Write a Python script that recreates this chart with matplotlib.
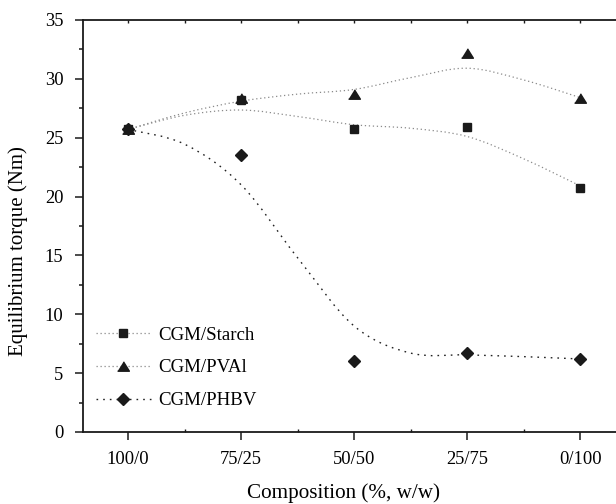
import numpy as np
import matplotlib
matplotlib.use("Agg")
import matplotlib.pyplot as plt
from matplotlib.path import Path
from matplotlib.patches import PathPatch
from matplotlib.lines import Line2D
from matplotlib.ticker import MultipleLocator

plt.rcParams['font.family'] = ['Liberation Serif', 'DejaVu Serif']

# composition categories
categories = ['100/0', '75/25', '50/50', '25/75', '0/100']

# measured equilibrium torque (Nm)
starch = [25.7, 28.2, 25.7, 25.9, 20.7]
pval = [25.7, 28.4, 28.7, 32.2, 28.4]
phbv = [25.7, 23.5, 6.0, 6.7, 6.2]

# smoothed trend lines, read at every half category step
trend_pos = [0, 0.5, 1, 1.5, 2, 2.5, 3, 3.5, 4]
starch_trend = [25.7, 26.9, 27.35, 26.8, 26.1, 25.8, 25.1, 23.2, 20.9]
pval_trend = [25.7, 27.1, 28.1, 28.7, 29.1, 30.1, 30.9, 29.9, 28.4]
phbv_trend = [25.7, 24.45, 21.0, 14.8, 9.0, 6.7, 6.55, 6.4, 6.2]


def smooth_path(xs, ys):
    # catmull-rom through the read points, drawn as cubic bezier segments
    p = np.column_stack([xs, ys]).astype(float)
    p_ext = np.vstack([p[0], p, p[-1]])
    verts = [p[0]]
    codes = [Path.MOVETO]
    for i in range(1, len(p_ext) - 2):
        c1 = p_ext[i] + (p_ext[i + 1] - p_ext[i - 1]) / 6
        c2 = p_ext[i + 1] - (p_ext[i + 2] - p_ext[i]) / 6
        verts += [c1, c2, p_ext[i + 1]]
        codes += [Path.CURVE4] * 3
    return Path(verts, codes)


fig = plt.figure(figsize=(6.16, 5.04), dpi=100)
ax = fig.add_axes([0.1343, 0.1429, 0.8812, 0.8175])

x = np.arange(len(categories))
grey_ls = (0, (1.0, 2.2))
black_ls = (0, (1.2, 3.6))

ax.add_patch(PathPatch(smooth_path(trend_pos, starch_trend), fill=False,
                       ec='#8a8a8a', lw=0.9, ls=grey_ls))
ax.add_patch(PathPatch(smooth_path(trend_pos, pval_trend), fill=False,
                       ec='#8a8a8a', lw=0.9, ls=grey_ls))
ax.add_patch(PathPatch(smooth_path(trend_pos, phbv_trend), fill=False,
                       ec='#222222', lw=1.0, ls=black_ls))

tri = [(-1, -0.8), (1, -0.8), (0, 0.8)]
ax.plot(x, starch, ls='none', marker='s', ms=6, color='#1a1a1a')
ax.plot(x, pval, ls='none', marker=tri, ms=8.5, color='#1a1a1a')
ax.plot(x, phbv, ls='none', marker='D', ms=6, color='#1a1a1a')

handles = [
    Line2D([], [], color='#8a8a8a', lw=0.9, ls=grey_ls, marker='s', ms=6,
           mfc='#1a1a1a', mec='#1a1a1a'),
    Line2D([], [], color='#8a8a8a', lw=0.9, ls=grey_ls, marker=tri, ms=8.5,
           mfc='#1a1a1a', mec='#1a1a1a'),
    Line2D([], [], color='#222222', lw=1.0, ls=black_ls, marker='D', ms=6,
           mfc='#1a1a1a', mec='#1a1a1a'),
]
ax.legend(handles, ['CGM/Starch', 'CGM/PVAl', 'CGM/PHBV'], loc='upper left',
          bbox_to_anchor=(0.0245, 0.256), frameon=False, fontsize=13.6,
          numpoints=1, handlelength=2.9, handletextpad=0.42,
          labelspacing=0.82, borderpad=0, borderaxespad=0)

ax.set_xlim(-0.4, 4.4)
ax.set_ylim(0, 35)
ax.set_xticks(x)
ax.set_xticklabels(categories)
ax.xaxis.set_minor_locator(MultipleLocator(0.5))
ax.yaxis.set_major_locator(MultipleLocator(5))
ax.yaxis.set_minor_locator(MultipleLocator(2.5))

for s in ax.spines.values():
    s.set_linewidth(1.3)
    s.set_color('#1a1a1a')

ax.tick_params(axis='both', which='major', labelsize=13.3, length=6,
               width=1.1, color='#1a1a1a', pad=8)
ax.tick_params(axis='y', which='minor', length=3, width=1.1, color='#1a1a1a')
ax.tick_params(axis='x', which='minor', length=2, width=1.0, direction='in',
               color='#1a1a1a')

# small inward ticks on the top edge at every half step
top = ax.secondary_xaxis('top')
top.set_xticks(np.arange(0, 4.51, 0.5))
top.tick_params(length=2, width=1.0, direction='in', labeltop=False,
                color='#1a1a1a')
top.spines['top'].set_visible(False)

ax.set_xlabel('Composition (%, w/w)', fontsize=15.2)
ax.set_ylabel('Equilibrium torque (Nm)', fontsize=15)
ax.xaxis.set_label_coords(0.4805, -0.125)
ax.yaxis.set_label_coords(-0.101, 0.438)

fig.savefig('out.png', dpi=100)
